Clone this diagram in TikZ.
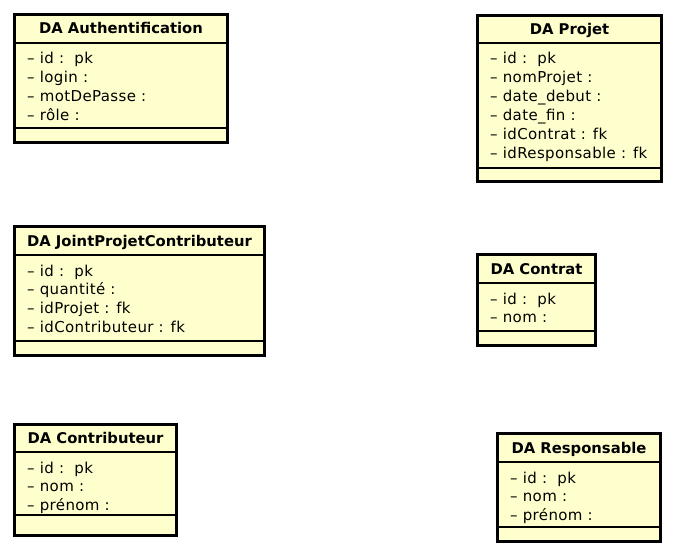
\documentclass[tikz,border=0pt]{standalone}
\usepackage{fontspec}
\setmainfont{DejaVu Sans}
\newfontfamily\attrfont[LetterSpace=2.5]{DejaVu Sans}
\definecolor{classfill}{RGB}{255,255,206}
\tikzset{
  classframe/.style={draw=black, line width=2.6pt, fill=classfill},
  sepline/.style={draw=black, line width=1.3pt},
  classtitle/.style={font=\fontsize{14.8}{17}\selectfont\bfseries, inner sep=0pt, text height=10pt, text depth=3pt},
  attr/.style={font=\attrfont\fontsize{15}{17}\selectfont, inner sep=0pt, anchor=base west},
}
\newcommand\umlbox[9]{%
  \draw[classframe] ({#2+1.3},{#3+1.3}) rectangle ({#4-1.3},{#5-1.3});
  \node[classtitle] (#1-title) at ({(#2+#4)/2},{(#3+#6)/2+2.5}) {#8};
  \draw[sepline] (#2,#6) -- (#4,#6);
  \draw[sepline] (#2,#7) -- (#4,#7);
  \foreach \a [count=\i from 0] in {#9} {
    \node[attr] (#1-\i) at ({#2+14},{#6+21+\i*18.8}) {\a};
  }
}
\begin{document}
\begin{tikzpicture}[x=1pt,y=-1pt]
\useasboundingbox (0,0) rectangle (676,556);
\umlbox{auth}{13}{13}{229}{144}{43}{128}{DA Authentification}{– id :\ \ pk,– login :,– motDePasse :,– rôle :}
\umlbox{projet}{476}{14}{663}{183}{43}{168}{DA Projet}{– id :\ \ pk,– nomProjet :,– date\_debut :,– date\_fin :,– idContrat : fk,– idResponsable : fk}
\umlbox{joint}{13}{225}{266}{357}{255}{341}{DA JointProjetContributeur}{– id :\ \ pk,– quantité :,– idProjet : fk,– idContributeur : fk}
\umlbox{contrat}{476}{253}{597}{347}{283}{331}{DA Contrat}{– id :\ \ pk,– nom :}
\umlbox{contrib}{13}{423}{178}{537}{452}{515}{DA Contributeur}{– id :\ \ pk,– nom :,– prénom :}
\umlbox{resp}{496}{432}{662}{543}{462}{527}{DA Responsable}{– id :\ \ pk,– nom :,– prénom :}
\end{tikzpicture}
\end{document}
